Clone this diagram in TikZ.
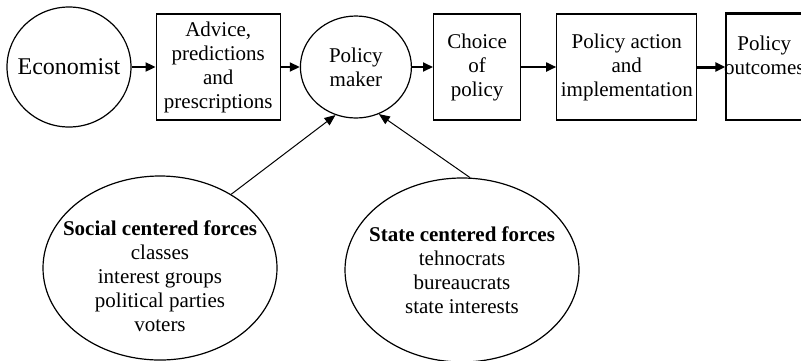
\documentclass[tikz,border=0pt]{standalone}
\usepackage{fontspec}
\setmainfont{Liberation Serif}
\usetikzlibrary{shapes, arrows.meta, positioning}

\begin{document}
\begin{tikzpicture}[
        x=0.5pt, y=-0.5pt,
        font=\fontsize{10.5}{12}\selectfont,
        actor/.style={ellipse, draw, line width=0.6pt, inner sep=0pt, align=center},
        stage/.style={rectangle, draw, line width=0.6pt, inner sep=0pt, align=center, minimum height=53pt},
        force/.style={ellipse, draw, line width=0.6pt, inner sep=0pt, inner xsep=-12pt, align=center, minimum width=117pt, minimum height=92pt},
        flow/.style={-{Triangle[length=5pt, width=4.5pt]}, line width=0.9pt},
        pull/.style={-{Triangle[length=5.5pt, width=4.5pt]}, line width=0.5pt}
    ]
        \useasboundingbox (0,0) rectangle (801,360);

        % Top row: from the economist to the outcomes
        \node[actor, minimum width=62pt, minimum height=60pt, inner xsep=-8pt, font=\fontsize{12}{14}\selectfont] (econ) at (69,67) {Economist};
        \node[stage, minimum width=62pt, right=12pt of econ] (advice) {Advice,\\predictions\\and\\prescriptions};
        \node[actor, minimum width=55.5pt, minimum height=51pt, right=9.5pt of advice] (maker) {Policy\\maker};
        \node[stage, minimum width=43.5pt, right=10.5pt of maker] (choice) {Choice\\of\\policy};
        \node[stage, minimum width=70pt, right=17.5pt of choice] (action) {Policy action\\and\\implementation};
        \node[stage, inner xsep=-1pt, right=14pt of action] (outcomes) {Policy\\outcomes\\\mbox{}};
        \draw[line width=1.4pt] (outcomes.north west) -- (outcomes.north east);

        \draw[flow] (econ) -- (advice);
        \draw[flow] (advice) -- (maker);
        \draw[flow] (maker) -- (choice);
        \draw[flow] (choice) -- (action);
        \draw[flow, line width=1.5pt] (action) -- (outcomes);

        % Forces acting on the policy maker
        \node[force] (social) at (160,268) {\rule{0pt}{16pt}\textbf{Social centered forces}\\classes\\interest groups\\political parties\\voters};
        \node[force] (state) at (462,270) {\textbf{State centered forces}\\tehnocrats\\bureaucrats\\state interests};

        \draw[pull] (social.46) -- (maker.247);
        \draw[pull] (state.85) -- (maker.296);
    \end{tikzpicture}
\end{document}
